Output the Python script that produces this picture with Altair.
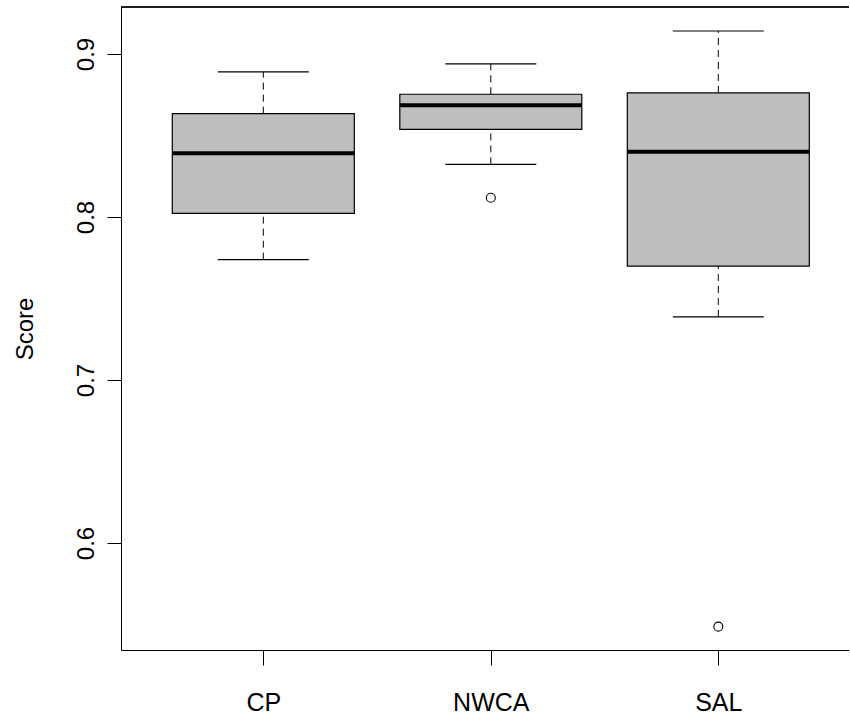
import altair as alt
import pandas as pd

categories = ["CP", "NWCA", "SAL"]
positions = [1, 2, 3]
whisker_low = [0.7738, 0.8323, 0.7387]
q1 = [0.8022, 0.8538, 0.7699]
median = [0.8391, 0.8685, 0.8401]
q3 = [0.8634, 0.8753, 0.8761]
whisker_high = [0.8890, 0.8939, 0.9141]
outlier_cat = ["NWCA", "SAL"]
outlier_val = [0.8118, 0.5487]
y_ticks = [0.6, 0.7, 0.8, 0.9]

W, H = 728, 643
FONT = "Liberation Sans"

stats = pd.DataFrame({
    "cat": categories, "pos": positions, "wlo": whisker_low, "q1": q1,
    "med": median, "q3": q3, "whi": whisker_high,
})
pos_of = dict(zip(categories, positions))
outl = pd.DataFrame({"cat": outlier_cat, "val": outlier_val,
                     "pos": [pos_of[c] for c in outlier_cat]})

xs = alt.Scale(domain=[0.3745, 3.5745], nice=False, zero=False)
ys = alt.Scale(domain=[0.53436, 0.92883], nice=False, zero=False)

label_expr = " : ".join(
    f"datum.value == {p} ? '{c}'" for p, c in zip(positions[:-1], categories[:-1])
) + f" : '{categories[-1]}'"

x_axis = alt.Axis(values=positions, labelExpr=label_expr, title="", labelAngle=0,
                  labelBaseline="alphabetic", labelPadding=45, tickSize=15,
                  labelFontSize=25, labelFlush=False, labelOverlap=False)
y_axis = alt.Axis(values=y_ticks, format=".1f", title="Score", labelAngle=270,
                  labelAlign="center", labelBaseline="alphabetic", labelPadding=14,
                  tickSize=14, titleAngle=270, titleAlign="center",
                  titleBaseline="alphabetic", titleX=-89, titleY=321.5,
                  labelFlush=False, labelOverlap=False)


def X(field):
    return alt.X(field, scale=xs, axis=x_axis, title="")


def Y(field):
    return alt.Y(field, scale=ys, axis=y_axis, title="Score")


base = alt.Chart(stats).transform_calculate(
    lo="datum.pos - 0.4", hi="datum.pos + 0.4",
    clo="datum.pos - 0.2", chi="datum.pos + 0.2",
)

dash = [7, 5]
upper = base.mark_rule(color="black", strokeWidth=1, strokeDash=dash).encode(
    x=X("pos:Q"), y=Y("q3:Q"), y2="whi:Q",
)
lower = base.mark_rule(color="black", strokeWidth=1, strokeDash=dash).encode(
    x=X("pos:Q"), y=Y("wlo:Q"), y2="q1:Q",
)
cap_hi = base.mark_rule(color="black", strokeWidth=1.2).encode(
    x=X("clo:Q"), x2="chi:Q", y=Y("whi:Q"),
)
cap_lo = base.mark_rule(color="black", strokeWidth=1.2).encode(
    x=X("clo:Q"), x2="chi:Q", y=Y("wlo:Q"),
)
box = base.mark_rect(fill="#bebebe", stroke="black", strokeWidth=1.2).encode(
    x=X("lo:Q"), x2="hi:Q", y=Y("q1:Q"), y2="q3:Q",
)
med = base.mark_rule(color="black", strokeWidth=4).encode(
    x=X("lo:Q"), x2="hi:Q", y=Y("med:Q"),
)
pts = alt.Chart(outl).mark_point(shape="circle", filled=False, color="black",
                                 size=80, strokeWidth=1.1, opacity=1).encode(
    x=X("pos:Q"), y=Y("val:Q"),
)
top = alt.Chart(stats).mark_rule(color="black", strokeWidth=1).encode(
    x=alt.value(0), x2=alt.value(W + 2), y=alt.value(0)
)

chart = alt.layer(upper, lower, cap_hi, cap_lo, box, med, pts, top).properties(
    width=W, height=H,
    autosize=alt.AutoSizeParams(type="none"),
    padding={"left": 121, "top": 7, "right": 0, "bottom": 65},
    background="white",
).configure_view(strokeWidth=0).configure_axis(
    labelFont=FONT, labelFontSize=24, labelColor="black",
    titleFont=FONT, titleFontSize=24, titleFontWeight="normal", titleColor="black",
    domainColor="black", domainWidth=1, tickColor="black", tickWidth=1, grid=False,
)

chart.save("out.html", embed_options={"renderer": "svg", "actions": False})
